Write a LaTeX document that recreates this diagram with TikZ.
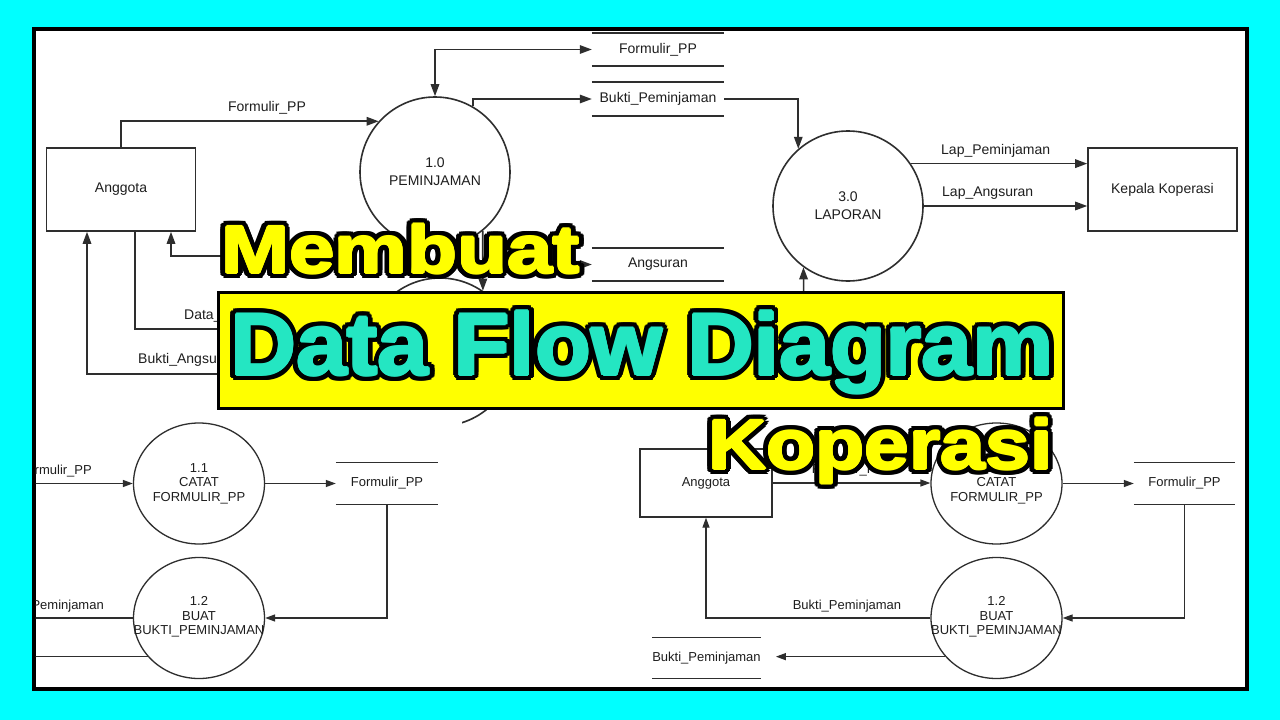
\documentclass[tikz,border=0pt]{standalone}
\usepackage{graphicx}
\usepackage{fontspec}
\setmainfont{Liberation Sans}
\usetikzlibrary{arrows.meta,shapes.geometric,calc}
\definecolor{cyanbg}{HTML}{00FFFF}
\definecolor{lnc}{HTML}{2E2E2E}
\definecolor{txc}{HTML}{1E1E1E}
\definecolor{ttlyellow}{HTML}{FFFF00}
\definecolor{ttlteal}{HTML}{24E6C2}
\newcommand\outlinedword[4]{%
  \foreach \ang in {0,20,...,340}{%
    \node[anchor=base west, inner sep=0, text=black] (#1o\ang) at ($(#2)+(\ang:6)$) {#4};}
  \foreach \ang in {0,45,...,315}{%
    \node[anchor=base west, inner sep=0, text=#3] (#1f\ang) at ($(#2)+(\ang:1.2)$) {#4};}
  \node[anchor=base west, inner sep=0, text=#3] (#1) at (#2) {#4};}
\begin{document}
\begin{tikzpicture}[x=1pt,y=-1pt,
  flowline/.style={draw=lnc, line width=1.6pt},
  flowarr/.style={flowline, -{Triangle[length=12pt,width=8.5pt]}},
  biarr/.style={flowline, {Triangle[length=12pt,width=8.5pt]}-{Triangle[length=12pt,width=8.5pt]}},
  smallline/.style={draw=lnc, line width=1.3pt},
  smallarr/.style={smallline, -{Triangle[length=10pt,width=7pt]}},
  bigfont/.style={font=\fontsize{14}{18}\selectfont},
  smallfont/.style={font=\fontsize{13}{14.5}\selectfont},
  entity/.style={draw=lnc, line width=1.6pt, rectangle, inner sep=0, text=txc, bigfont},
  entitysmall/.style={draw=lnc, line width=1.3pt, rectangle, inner sep=0, text=txc, smallfont},
  process/.style={draw=lnc, line width=1.6pt, circle, inner sep=0, minimum size=150pt, text=txc, align=center, bigfont},
  subproc/.style={draw=lnc, line width=1.3pt, ellipse, inner sep=0, minimum width=131pt, minimum height=121pt},
  subtext/.style={inner sep=0, text=txc, align=center, smallfont},
  storebig/.style={inner sep=0, text=txc, bigfont},
  storesmall/.style={inner sep=0, text=txc, smallfont},
  lblbig/.style={inner sep=0, text=txc, bigfont},
  lblsmall/.style={inner sep=0, text=txc, smallfont}]
\useasboundingbox (0,0) rectangle (1280,720);
\fill[cyanbg] (0,0) rectangle (1280,720);
\node[draw=black, line width=4pt, fill=white, minimum width=1213.5pt, minimum height=660pt, inner sep=0] (frame) at (640.25,359) {};

\begin{scope}
\clip (35.5,31) rectangle (1245,687);
% ---------- top diagram ----------
\node[entity, minimum width=149pt, minimum height=83pt] (ang1) at (121,189.5) {Anggota};
\node[process] (c10) at (435,172) {1.0\\PEMINJAMAN};
\node[process] (c30) at (848,206) {3.0\\LAPORAN};
\node[entity, minimum width=149pt, minimum height=83pt] (kep) at (1162.5,189.5) {Kepala Koperasi};
\begin{scope}
\clip (35.5,31) rectangle (1245,408) (462,400) rectangle (1245,424);
\node[process, minimum size=148pt] (c20) at (440,352) {};
\end{scope}
\node[storebig, minimum width=132pt, minimum height=33pt] (fp1) at (658,49.5) {Formulir\_PP};
\node[storebig, minimum width=132pt, minimum height=34pt] (bp1) at (658,99) {Bukti\_Peminjaman};
\node[storebig, minimum width=132pt, minimum height=33pt] (as1) at (658,264.5) {Angsuran};

\coordinate (bpin) at (240,256);
\coordinate (angin) at (560,264.5);
\coordinate (lapin) at (804,330);

\draw[flowarr] (ang1.north) |- (c10.138);
\draw[biarr] (c10.north) |- (fp1.west);
\draw[flowarr] (c10.60) |- (bp1.west);
\draw[flowarr] (bp1.east) -| (c30.131);
\draw[flowarr] (c30.34) -- (c30.34 -| kep.west);
\draw[flowarr] (c30.east) -- (c30.east -| kep.west);
\draw[flowarr] (c10.-51) -- (c20.55);
\draw[flowarr] (angin) -- (as1.west);
\draw[flowarr] (lapin) -- (c30.234);
\draw[flowarr] (bpin) -| ([xshift=50pt]ang1.south);
\draw[flowarr] ([xshift=14pt]ang1.south) |- (c20.162);
\draw[flowarr] (c20.197) -| ([xshift=-34pt]ang1.south);

\node[lblbig] (l1) at (267,108) {Formulir\_PP};
\node[lblbig, anchor=west] (l2) at (184,316) {Data\_Angsuran};
\node[lblbig, anchor=west] (l3) at (138,360) {Bukti\_Angsuran};
\node[lblbig, anchor=west] (l4) at (941,151) {Lap\_Peminjaman};
\node[lblbig, anchor=west] (l5) at (942,193) {Lap\_Angsuran};

% ---------- bottom-left diagram ----------
\node[subproc] (c11) at (199,483.5) {};
\node[subtext] (c11t) at (c11) {1.1\\CATAT\\FORMULIR\_PP};
\node[subproc] (c12) at (199,618) {};
\node[subtext] (c12t) at (199,617) {1.2\\BUAT\\BUKTI\_PEMINJAMAN};
\node[storesmall, minimum width=102pt, minimum height=41pt] (fp2) at (387,483.5) {Formulir\_PP};
\coordinate (inl1) at (0,483.5);
\coordinate (outl1) at (0,618);
\coordinate (outl2) at (0,656);
\draw[smallarr] (inl1) -- (c11.west);
\draw[smallarr] (c11.east) -- (fp2.west);
\draw[smallarr] (fp2.south) |- (c12.east);
\draw[smallarr] (c12.west) -- (outl1);
\draw[smallarr] (c12.217) -- (outl2 |- c12.217);
\node[lblsmall, anchor=east] (l6) at (92,471) {Formulir\_PP};
\node[lblsmall, anchor=east] (l7) at (104,606) {Bukti\_Peminjaman};

% ---------- bottom-right diagram ----------
\node[entitysmall, minimum width=132pt, minimum height=68pt] (ang2) at (706,483) {Anggota};
\node[subproc] (c11b) at (996.5,483.5) {};
\node[subtext] (c11bt) at (c11b) {1.1\\CATAT\\FORMULIR\_PP};
\node[subproc] (c12b) at (996.5,618) {};
\node[subtext] (c12bt) at (996.5,617) {1.2\\BUAT\\BUKTI\_PEMINJAMAN};
\node[storesmall, minimum width=101pt, minimum height=41pt] (fp3) at (1184.5,483.5) {Formulir\_PP};
\node[storesmall, minimum width=101pt, minimum height=40pt] (bp3) at (706.5,658) {Bukti\_Peminjaman};
\draw[smallarr] (ang2.east) -- (ang2.east -| c11b.west);
\draw[smallarr] (c11b.east) -- (fp3.west);
\draw[smallarr] (fp3.south) |- (c12b.east);
\draw[smallarr] (c12b.west) -| (ang2.south);
\draw[smallarr] (c12b.217) -- ($(c12b.217 -| bp3.east)+(15,0)$);
\node[lblsmall] (l8) at (848,470) {Formulir\_PP};
\node[lblsmall] (l9) at (847,606) {Bukti\_Peminjaman};

\foreach \s in {fp1,bp1,as1}{
  \draw[flowline] (\s.north west) -- (\s.north east) (\s.south west) -- (\s.south east);}
\foreach \s in {fp2,fp3,bp3}{
  \draw[smallline] (\s.north west) -- (\s.north east) (\s.south west) -- (\s.south east);}
\end{scope}

% ---------- title overlay ----------
\node[draw=black, line width=3pt, fill=ttlyellow, minimum width=845pt, minimum height=116pt, inner sep=0] (ybox) at (640.5,350) {};
\outlinedword{tmembuat}{221,273}{ttlyellow}{\scalebox{1.22}[1]{\fontsize{67}{67}\selectfont\bfseries Membuat}}
\outlinedword{tdfd}{230,375}{ttlteal}{\scalebox{1.04}[1]{\fontsize{88}{88}\selectfont\bfseries Data Flow Diagram}}
\outlinedword{tkop}{708,469}{ttlyellow}{\scalebox{1.15}[1]{\fontsize{70}{70}\selectfont\bfseries Koperasi}}
\end{tikzpicture}
\end{document}
